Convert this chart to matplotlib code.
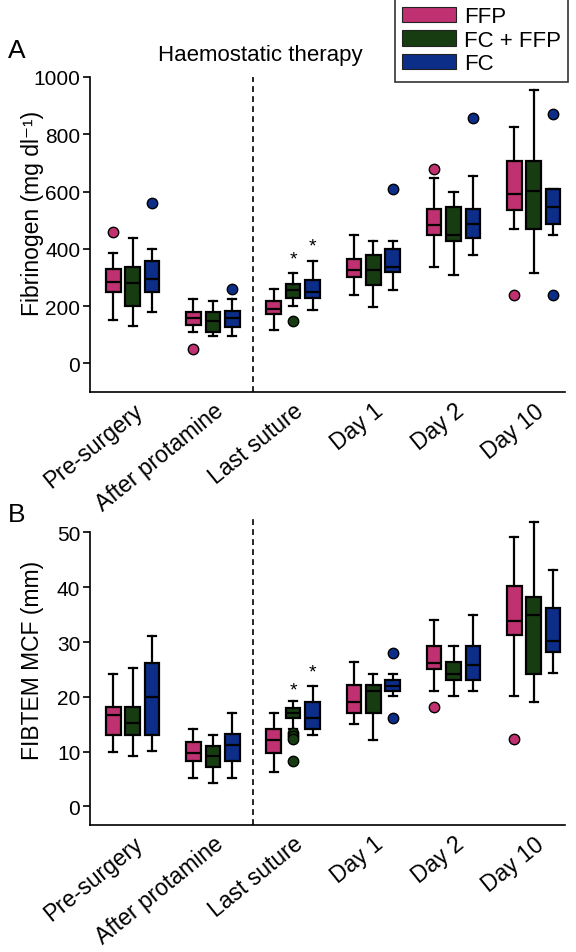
import matplotlib
matplotlib.use('Agg')
import matplotlib.pyplot as plt
from matplotlib.patches import Patch
import numpy as np

plt.rcParams['font.family'] = ['Liberation Sans', 'DejaVu Sans']

categories = ['Pre-surgery', 'After protamine', 'Last suture', 'Day 1', 'Day 2', 'Day 10']
series = ['FFP', 'FC + FFP', 'FC']
colors = ['#BF3170', '#173C12', '#0C2E88']

# Fibrinogen (mg/dl): [whislo, q1, median, q3, whishi] per time point
fib_ffp = [[151, 249, 284, 329, 387], [109, 135, 158, 181, 225], [117, 173, 190, 217, 260],
           [239, 300, 327, 365, 449], [336, 448, 482, 538, 649], [468, 537, 590, 708, 825]]
fib_ffp_out = [[459], [50], [], [], [679], [239]]
fib_fcffp = [[130, 199, 279, 336, 438], [95, 109, 148, 181, 217], [199, 227, 257, 277, 315],
             [197, 275, 327, 380, 429], [308, 429, 449, 547, 597], [317, 468, 602, 708, 955]]
fib_fcffp_out = [[], [], [148], [], [], []]
fib_fc = [[180, 249, 296, 359, 399], [97, 128, 159, 182, 225], [188, 227, 250, 290, 359],
          [257, 318, 336, 400, 429], [379, 437, 485, 538, 655], [449, 486, 547, 610, 610]]
fib_fc_out = [[560], [258], [], [609], [858], [872, 239]]
fib_stars = [364, 410]  # FC+FFP, FC at last suture

# FIBTEM MCF (mm)
mcf_ffp = [[10.0, 13.1, 16.7, 18.2, 24.2], [5.2, 8.3, 9.8, 11.7, 14.1], [6.3, 9.8, 12.1, 14.2, 17.0],
           [15.1, 17.0, 19.1, 22.1, 26.3], [21.1, 25.1, 26.2, 29.2, 34.1], [20.1, 31.2, 33.9, 40.2, 49.2]]
mcf_ffp_out = [[], [], [], [], [18.1], [12.3]]
mcf_fcffp = [[9.2, 13.1, 15.2, 18.2, 25.3], [4.3, 7.1, 9.2, 11.1, 13.1], [14.1, 16.2, 17.1, 18.0, 19.2],
             [12.1, 17.0, 21.1, 22.1, 24.2], [20.1, 23.0, 24.2, 26.3, 29.2], [19.1, 24.2, 34.9, 38.2, 52.0]]
mcf_fcffp_out = [[], [], [13.4, 12.8, 12.3, 8.3], [], [], []]
mcf_fc = [[10.1, 13.1, 20.0, 26.2, 31.1], [5.2, 8.2, 11.2, 13.2, 17.1], [13.0, 14.1, 16.2, 19.1, 22.0],
          [20.1, 21.1, 21.9, 23.1, 24.2], [21.1, 23.1, 25.8, 29.2, 35.0], [24.3, 28.1, 30.1, 36.2, 43.2]]
mcf_fc_out = [[], [], [], [28.0, 16.2], [], []]
mcf_stars = [21.3, 24.6]

W, H = 576, 953
fig = plt.figure(figsize=(W / 100, H / 100), dpi=100)


def rect(l, t, r, b):
    return [l / W, 1 - b / H, (r - l) / W, (b - t) / H]


ax1 = fig.add_axes(rect(90, 78, 565, 393))
ax2 = fig.add_axes(rect(90, 520, 565, 826))

FS_TICK = 15
FS_X = 16.5
FS_LAB = 16.5
FS_TXT = 16
offsets = [-0.242, 0.0, 0.242]
pos = np.arange(len(categories))


def draw(ax, stats_sets, flier_sets, stars, ylim, spine_top, yticks, ylabel, label_y):
    for k in range(3):
        stats = []
        for s, f in zip(stats_sets[k], flier_sets[k]):
            stats.append(dict(whislo=s[0], q1=s[1], med=s[2], q3=s[3], whishi=s[4], fliers=f))
        ax.bxp(stats, positions=pos + offsets[k], widths=0.183, patch_artist=True,
               manage_ticks=False, capwidths=0.1,
               boxprops=dict(facecolor=colors[k], edgecolor='black', linewidth=1.6),
               medianprops=dict(color='black', linewidth=1.6),
               whiskerprops=dict(color='black', linewidth=1.6),
               capprops=dict(color='black', linewidth=1.6),
               flierprops=dict(marker='o', markerfacecolor=colors[k], markeredgecolor='black',
                               markersize=7.5, markeredgewidth=1.0))
    for k, yv in zip([1, 2], stars):
        ax.text(pos[2] + offsets[k], yv, '*', ha='center', va='center', fontsize=14)
    ax.axvline(1.5, ymin=0, ymax=1, color='black', linestyle=(0, (3.5, 2.5)), linewidth=1.2)
    ax.set_xlim(-0.532, 5.39)
    ax.set_ylim(*ylim)
    for sp in ['top', 'right']:
        ax.spines[sp].set_visible(False)
    ax.spines['left'].set_bounds(ylim[0], spine_top)
    ax.spines['left'].set_linewidth(1.2)
    ax.spines['bottom'].set_linewidth(1.2)
    ax.set_yticks(yticks)
    ax.tick_params(axis='y', labelsize=FS_TICK, length=5, width=1.2, pad=2)
    ax.set_xticks(pos)
    ax.set_xticklabels(categories, rotation=39, ha='right', va='top',
                       rotation_mode='anchor', fontsize=FS_X)
    ax.tick_params(axis='x', length=0, pad=5)
    ax.set_ylabel(ylabel, fontsize=FS_LAB)
    ax.yaxis.set_label_coords(-0.097, label_y)


draw(ax1, [fib_ffp, fib_fcffp, fib_fc], [fib_ffp_out, fib_fcffp_out, fib_fc_out], fib_stars,
     (-100, 1000), 1000, [0, 200, 400, 600, 800, 1000], 'Fibrinogen (mg dl\u207b\u00b9)', 0.57)
draw(ax2, [mcf_ffp, mcf_fcffp, mcf_fc], [mcf_ffp_out, mcf_fcffp_out, mcf_fc_out], mcf_stars,
     (-3.4, 52.46), 50, [0, 10, 20, 30, 40, 50], 'FIBTEM MCF (mm)', 0.54)

fig.text(260 / W, 1 - 55 / H, 'Haemostatic therapy', ha='center', va='center', fontsize=FS_TXT)
fig.text(8 / W, 1 - 51 / H, 'A', ha='left', va='center', fontsize=19)
fig.text(8 / W, 1 - 515 / H, 'B', ha='left', va='center', fontsize=19)

handles = [Patch(facecolor=c, edgecolor='#222222', linewidth=0.8) for c in colors]
leg = fig.legend(handles, series, loc='upper right', bbox_to_anchor=(568 / W, 1.0),
                 fontsize=FS_TXT, frameon=True, fancybox=False, edgecolor='black',
                 handlelength=2.45, handleheight=0.68, labelspacing=0.12, borderpad=0.32,
                 handletextpad=0.35, borderaxespad=0.0)
leg.get_frame().set_linewidth(1.2)

fig.savefig('out.png', dpi=100)
